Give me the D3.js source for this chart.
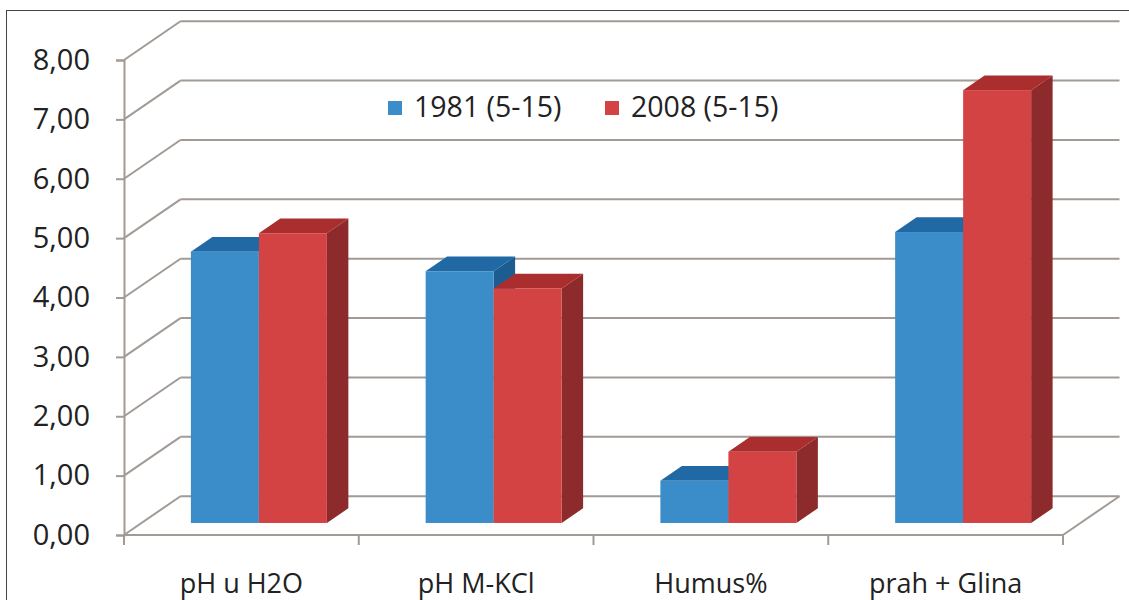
<!DOCTYPE html>
<html>
<head>
<meta charset="utf-8">
<script src="https://cdn.jsdelivr.net/npm/d3@7"></script>
<style>
  body { margin: 0; background: #fff; }
  text { font-family: "Open Sans", "Noto Sans", sans-serif; fill: #222; }
</style>
</head>
<body>
<div id="chart"></div>
<script>
// data
const categories = ["pH u H2O", "pH M-KCl", "Humus%", "prah + Glina"];
const seriesNames = ["1981 (5-15)", "2008 (5-15)"];
const values1981 = [4.57, 4.24, 0.71, 4.90];
const values2008 = [4.88, 3.95, 1.20, 7.29];
const yTicks = [0, 1, 2, 3, 4, 5, 6, 7, 8];

const width = 1129, height = 600;
const depthX = 56.5, depthY = -38.8;   // full floor depth offset
const zFront = 0.31, zBack = 0.69;     // bar depth inside the floor
const groupWidth = 136;

const colors = [
  { front: "#3a8dc9", top: "#2169a5", side: "#1c5d91" },
  { front: "#d44343", top: "#ab2e2e", side: "#8d2a2b" }
];
const gridColor = "#a19a95";

const svg = d3.select("#chart").append("svg")
  .attr("width", width).attr("height", height);

// chart frame
svg.append("rect")
  .attr("x", 6.5).attr("y", 10.5)
  .attr("width", width + 10).attr("height", height + 10)
  .attr("fill", "#fff").attr("stroke", "#444").attr("stroke-width", 1);

const x = d3.scaleBand().domain(categories).range([124, 1063]).padding(0);
const y = d3.scaleLinear().domain([0, 8]).range([535, 60]);
const xs = d3.scaleBand().domain(seriesNames)
  .range([(x.bandwidth() - groupWidth) / 2, (x.bandwidth() + groupWidth) / 2]);

const off = z => [depthX * z, depthY * z];
const [bx, by] = off(1);

// back wall gridlines + side wall diagonals
const grid = svg.append("g").attr("stroke", gridColor).attr("stroke-width", 2).attr("fill", "none");
yTicks.forEach(t => {
  grid.append("line")
    .attr("x1", x.range()[0] + bx).attr("y1", y(t) + by)
    .attr("x2", x.range()[1] + bx).attr("y2", y(t) + by);
  grid.append("line")
    .attr("x1", x.range()[0]).attr("y1", y(t))
    .attr("x2", x.range()[0] + bx).attr("y2", y(t) + by);
});
// floor front edge and right edge
grid.append("line")
  .attr("x1", x.range()[0]).attr("y1", y(0))
  .attr("x2", x.range()[1]).attr("y2", y(0));
grid.append("line")
  .attr("x1", x.range()[1]).attr("y1", y(0))
  .attr("x2", x.range()[1] + bx).attr("y2", y(0) + by);

// category boundary ticks
categories.concat([null]).forEach(c => {
  const px = c === null ? x.range()[1] : x(c);
  grid.append("line")
    .attr("x1", px).attr("y1", y(0))
    .attr("x2", px).attr("y2", y(0) + 10);
});

// y axis
const locale = d3.formatLocale({ decimal: ",", thousands: ".", grouping: [3], currency: ["", ""] });
const yAxis = d3.axisLeft(y).tickValues(yTicks).tickFormat(locale.format(".2f"))
  .tickSize(8).tickPadding(26);
const yg = svg.append("g").attr("transform", `translate(${x.range()[0]},0)`).call(yAxis);
yg.select(".domain").attr("stroke", gridColor).attr("stroke-width", 2);
yg.selectAll(".tick line").attr("stroke", gridColor).attr("stroke-width", 2);
yg.selectAll(".tick text").style("font-size", "29px").attr("fill", "#222");

// bars
function bar(g, x0, w, v, col) {
  const [fx, fy] = off(zFront);
  const [kx, ky] = off(zBack);
  const l = x0 + fx, r = x0 + w + fx;
  const b = y(0) + fy, t = y(v) + fy;
  const dx = kx - fx, dy = ky - fy;
  g.append("path").attr("fill", col.side)
    .attr("d", `M${r},${b}L${r + dx},${b + dy}L${r + dx},${t + dy}L${r},${t}Z`);
  g.append("path").attr("fill", col.top)
    .attr("d", `M${l},${t}L${l + dx},${t + dy}L${r + dx},${t + dy}L${r},${t}Z`);
  g.append("rect").attr("fill", col.front)
    .attr("x", l).attr("y", t).attr("width", w).attr("height", b - t);
}

const bars = svg.append("g");
categories.forEach((c, i) => {
  [values1981, values2008].forEach((vals, s) => {
    bar(bars, x(c) + xs(seriesNames[s]), xs.bandwidth(), vals[i], colors[s]);
  });
});

// category labels
svg.append("g").selectAll("text").data(categories).join("text")
  .attr("x", d => x(d) + x.bandwidth() / 2)
  .attr("y", 593)
  .attr("text-anchor", "middle")
  .style("font-size", "27px")
  .text(d => d);

// legend
const legendX = [388, 605];
const legend = svg.append("g");
seriesNames.forEach((n, s) => {
  legend.append("rect")
    .attr("x", legendX[s]).attr("y", 101).attr("width", 14).attr("height", 14)
    .attr("fill", colors[s].front);
  legend.append("text")
    .attr("x", legendX[s] + 26).attr("y", 117)
    .style("font-size", "28.5px")
    .text(n);
});
</script>
</body>
</html>
